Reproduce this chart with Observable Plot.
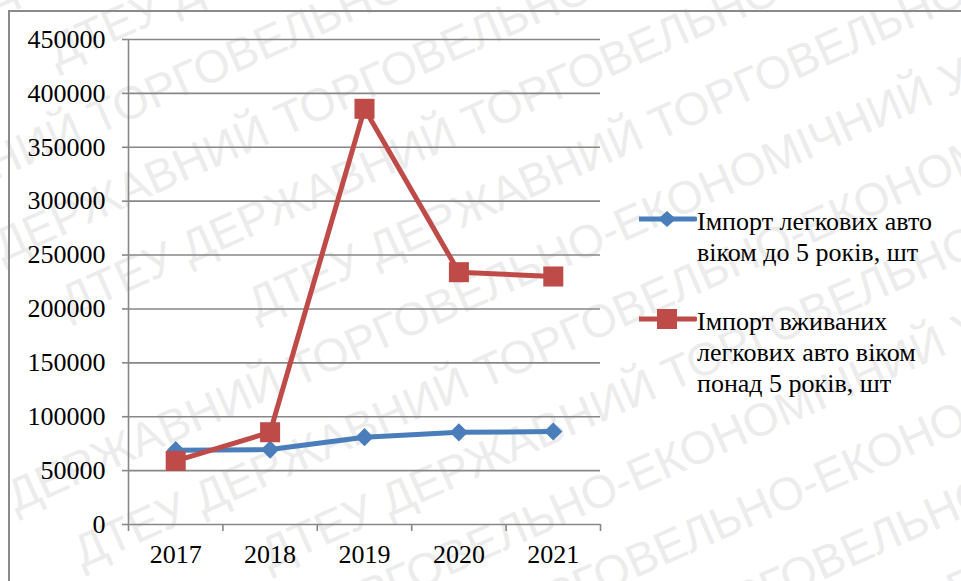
<!DOCTYPE html>
<html>
<head>
<meta charset="utf-8">
<script src="https://cdn.jsdelivr.net/npm/d3@7"></script>
<script src="https://cdn.jsdelivr.net/npm/@observablehq/plot@0.6"></script>
<style>
  html, body { margin: 0; padding: 0; background: #fff; }
  #wrap { position: relative; width: 961px; height: 581px; overflow: hidden; background: #fff; }
  #wm { position: absolute; left: -300px; top: -420px; width: 1800px; height: 1500px;
        transform: rotate(-24deg); transform-origin: 50% 50%;
        font-family: "Liberation Sans", Arial, sans-serif; font-size: 46px; line-height: 78px;
        color: #ececec; white-space: nowrap; pointer-events: none; z-index: 0; }
  #border { position: absolute; left: 8px; top: 10px; width: 1200px; height: 800px;
            border-left: 2px solid #8a8a8a; border-top: 2px solid #8a8a8a; z-index: 1; }
  #chart { position: absolute; left: 0; top: 0; width: 961px; height: 581px; z-index: 2; }
  #legend { position: absolute; left: 639px; top: 0; width: 322px; height: 581px; z-index: 3; color: #000; }
  #legend, #legend div { font-family: "Liberation Serif", serif !important; font-size: 26px !important; line-height: 31px; }
  .item { position: absolute; left: 0; display: flex; align-items: flex-start; white-space: nowrap; }
  .item svg { flex: none; }
  #chart svg text { font-family: "Liberation Serif", serif !important; font-size: 26px !important; }
</style>
</head>
<body>
<div id="wrap">
  <div id="wm"></div>
  <div id="border"></div>
  <div id="chart"></div>
  <div id="legend"></div>
</div>
<script>
const years = ["2017", "2018", "2019", "2020", "2021"];
const importNew = [69000, 69500, 81000, 85500, 86300];
const importUsed = [59000, 85600, 385700, 234100, 230100];
const yTicks = [0, 50000, 100000, 150000, 200000, 250000, 300000, 350000, 400000, 450000];
const seriesLabels = [
  ["Імпорт легкових авто", "віком до 5 років, шт"],
  ["Імпорт вживаних", "легкових авто віком", "понад 5 років, шт"]
];
const seriesColors = ["#4A7EBB", "#BE4B48"];
const watermarkText = "ДТЕУ ДЕРЖАВНИЙ ТОРГОВЕЛЬНО-ЕКОНОМІЧНИЙ УНІВЕРСИТЕТ";

// watermark (background decoration)
const wm = document.getElementById("wm");
for (let k = 0; k < 20; k++) {
  const d = document.createElement("div");
  d.style.whiteSpace = "pre";
  d.style.paddingLeft = ((k * 170) % 600) + "px";
  d.textContent = (watermarkText + "   ").repeat(4);
  wm.appendChild(d);
}

const dataNew = years.map((y, i) => ({ pos: i + 0.5, year: y, value: importNew[i] }));
const dataUsed = years.map((y, i) => ({ pos: i + 0.5, year: y, value: importUsed[i] }));
const bandEdges = years.map((y, i) => i).concat([years.length]);
const centers = years.map((y, i) => i + 0.5);

const gridColor = "#878787";
const serif = "'Liberation Serif', serif";

const chart = Plot.plot({
  width: 961,
  height: 581,
  marginTop: 39,
  marginBottom: 57,
  marginLeft: 128,
  marginRight: 361,
  style: { fontFamily: serif, fontSize: "26px", background: "transparent", color: "#000", overflow: "visible" },
  x: { domain: [0, years.length], axis: null },
  y: { domain: [0, 450000], axis: null },
  marks: [
    Plot.ruleY(yTicks, { stroke: gridColor, strokeWidth: 1.6 }),
    Plot.ruleX([0], { stroke: gridColor, strokeWidth: 1.6 }),
    Plot.axisY({ ticks: yTicks, tickSize: 6, tickPadding: 17, tickFormat: d => String(d), stroke: gridColor, strokeWidth: 1.6, label: null, fontSize: 26 }),
    Plot.axisX({ ticks: bandEdges, tickSize: 7, tickFormat: () => "", stroke: gridColor, strokeWidth: 1.6, label: null }),
    Plot.axisX({ ticks: centers, tickSize: 0, tickPadding: 20, tickFormat: d => years[Math.round(d - 0.5)], label: null, fontSize: 26 }),
    Plot.line(dataNew, { x: "pos", y: "value", stroke: seriesColors[0], strokeWidth: 5 }),
    Plot.dot(dataNew, { x: "pos", y: "value", symbol: "diamond2", r: 8.2, fill: seriesColors[0], stroke: "none" }),
    Plot.line(dataUsed, { x: "pos", y: "value", stroke: seriesColors[1], strokeWidth: 5 }),
    Plot.dot(dataUsed, { x: "pos", y: "value", symbol: "square", r: 11.3, fill: seriesColors[1], stroke: "none" })
  ]
});
document.getElementById("chart").appendChild(chart);

// legend
const legend = document.getElementById("legend");
const tops = [206, 306];
seriesLabels.forEach((lab, i) => {
  const item = document.createElement("div");
  item.className = "item";
  item.style.top = tops[i] + "px";
  const sym = i === 0
    ? `<polygon points="28,5 37,13 28,21 19,13" fill="${seriesColors[0]}"/>`
    : `<rect x="18" y="3" width="20" height="20" fill="${seriesColors[1]}"/>`;
  item.innerHTML = `<svg width="58" height="26"><line x1="0" x2="56" y1="13" y2="13" stroke="${seriesColors[i]}" stroke-width="5" stroke-linecap="round"/>${sym}</svg>`;
  const txt = document.createElement("div");
  lab.forEach(l => { const d = document.createElement("div"); d.textContent = l; txt.appendChild(d); });
  item.appendChild(txt);
  legend.appendChild(item);
});
</script>
</body>
</html>
